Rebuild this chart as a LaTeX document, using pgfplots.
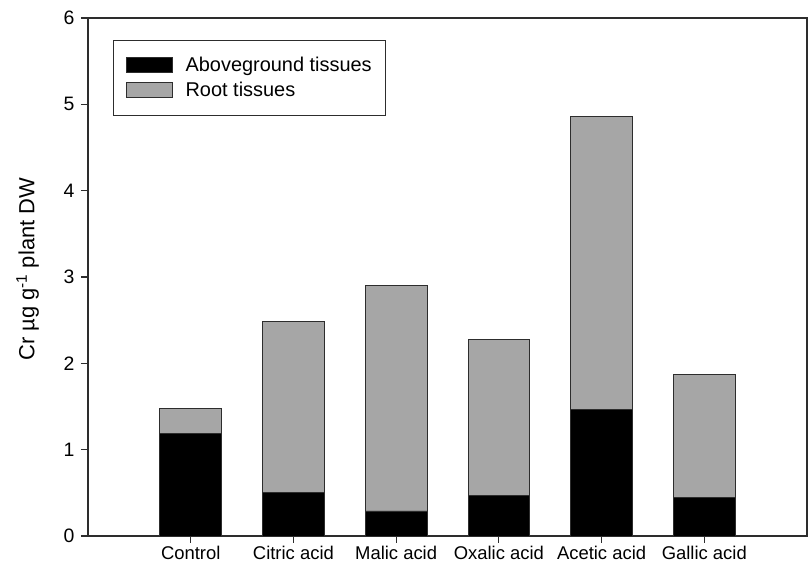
\documentclass[border=0pt]{standalone}
\usepackage{pgfplots}
\pgfplotsset{compat=1.18}
\usepackage{fontspec}
\setmainfont{Liberation Sans}
\definecolor{rootgray}{RGB}{166,166,166}
\definecolor{axgray}{RGB}{45,45,45}
\begin{document}
\begin{tikzpicture}
\begin{axis}[name=ax,
  scale only axis, width=719bp, height=518bp,
  ybar stacked, bar width=0.6,
  xmin=-1, xmax=6, ymin=0, ymax=6,
  xtick={0,...,5},
  xticklabels={Control,Citric acid,Malic acid,Oxalic acid,Acetic acid,Gallic acid},
  ytick={0,...,6},
  tick align=outside, major tick length=7bp,
  xtick pos=bottom, ytick pos=left,
  axis line style={axgray, line width=1.1bp},
  tick style={axgray, line width=1.1bp},
  /pgf/number format/assume math mode=true,
  yticklabel style={font=\fontsize{19.5}{22}\selectfont, xshift=-3bp},
  xticklabel style={font=\fontsize{18.5}{22}\selectfont},
  ylabel={Cr µg g\textsuperscript{-1} plant DW},
  ylabel style={font=\fontsize{22}{26}\selectfont, at={(axis description cs:-0.084,0.515)}, anchor=center},
  legend style={at={(0.035,0.958)}, anchor=north west, draw=axgray, line width=1.1bp,
    font=\fontsize{20}{24}\selectfont, inner xsep=12bp, inner ysep=15bp, row sep=5bp},
  legend cell align=left,
  every axis plot post/.append style={legend image code/.code={\draw[##1, line width=0.9bp] (0bp,-7.5bp) rectangle (46bp,7.5bp); \path (57bp,0bp);}},
]
\addplot[fill=black, draw=axgray, line width=0.9bp] coordinates {(0,1.19) (1,0.50) (2,0.29) (3,0.47) (4,1.46) (5,0.45)};
\addplot[fill=rootgray, draw=axgray, line width=0.9bp] coordinates {(0,0.29) (1,1.99) (2,2.61) (3,1.81) (4,3.40) (5,1.42)};
\legend{Aboveground tissues, Root tissues}
\end{axis}
\pgfresetboundingbox
\path ([xshift=-88bp,yshift=-37bp]ax.south west) rectangle ([xshift=1bp,yshift=18bp]ax.north east);
\end{tikzpicture}
\end{document}
